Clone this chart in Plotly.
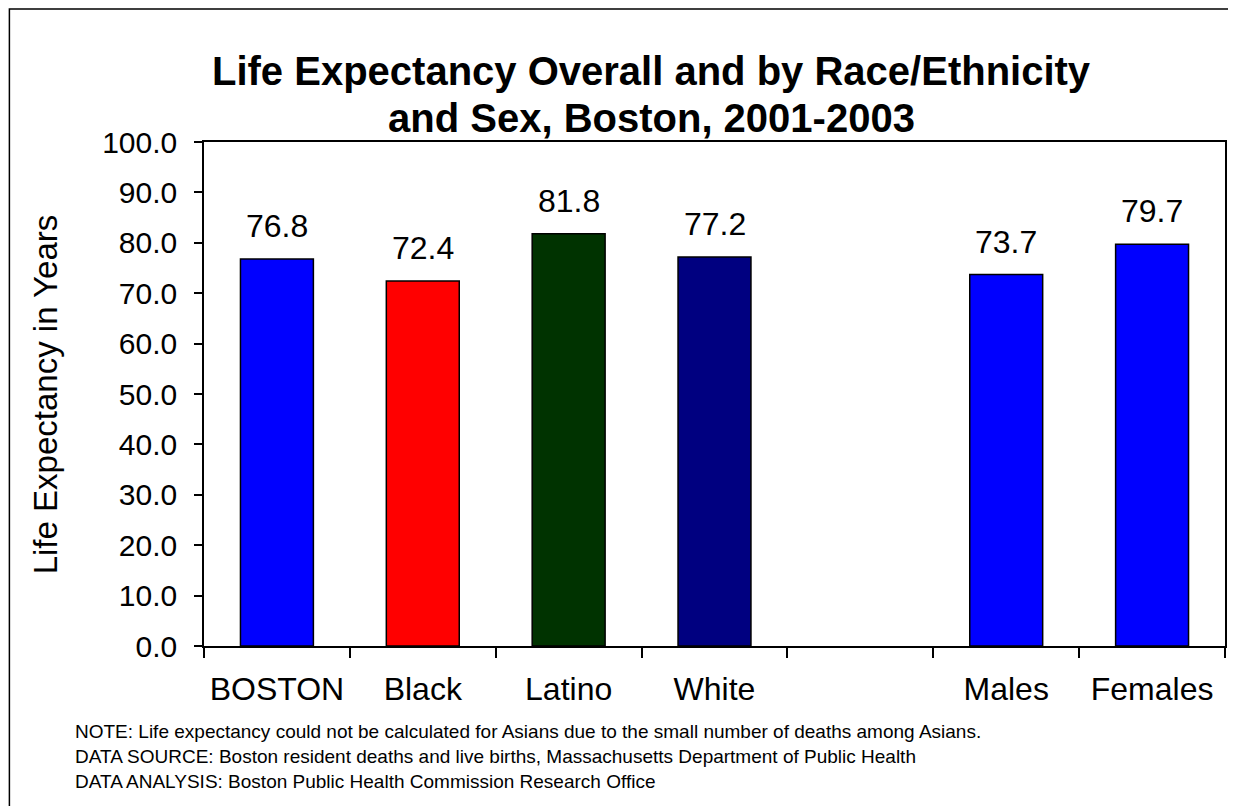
import plotly.graph_objects as go

categories = ["BOSTON", "Black", "Latino", "White", " ", "Males", "Females"]
values = [76.8, 72.4, 81.8, 77.2, None, 73.7, 79.7]
colors = ["#0000FF", "#FF0000", "#003300", "#000080", "#FFFFFF", "#0000FF", "#0000FF"]
y_ticks = [0, 10, 20, 30, 40, 50, 60, 70, 80, 90, 100]
y_tick_labels = [f"{v:.1f}" for v in y_ticks]
title_lines = ["Life Expectancy Overall and by Race/Ethnicity", "and Sex, Boston, 2001-2003"]
notes = [
    "NOTE: Life expectancy could not be calculated for Asians due to the small number of deaths among Asians.",
    "DATA SOURCE: Boston resident deaths and live births, Massachusetts Department of Public Health",
    "DATA ANALYSIS: Boston Public Health Commission Research Office",
]

FONT = "Liberation Sans, Arial, sans-serif"

fig = go.Figure()
fig.add_trace(go.Bar(
    x=categories, y=values,
    marker=dict(color=colors, line=dict(color="black", width=1.5)),
    width=0.5, hoverinfo="skip",
))

annotations = []
for c, v in zip(categories, values):
    if v is None:
        continue
    annotations.append(dict(x=c, y=v, xref="x", yref="y", text=f"{v:.1f}",
                            showarrow=False, yanchor="bottom", yshift=13,
                            font=dict(family=FONT, size=32, color="black")))

# y-axis title
annotations.append(dict(x=-0.1554, y=0.5, xref="paper", yref="paper",
                        text="Life Expectancy in Years", textangle=-90,
                        showarrow=False, xanchor="center", yanchor="middle",
                        font=dict(family=FONT, size=33, color="black")))
# title
title_y = [1.141, 1.047]
for t, ty in zip(title_lines, title_y):
    annotations.append(dict(x=0.438, y=ty, xref="paper", yref="paper", text=f"<b>{t}</b>",
                            showarrow=False, xanchor="center", yanchor="middle",
                            font=dict(family=FONT, size=40, color="black")))
# notes
note_y = [-0.1706, -0.2202, -0.2679]
for t, ny in zip(notes, note_y):
    annotations.append(dict(x=-0.128, y=ny, xref="paper", yref="paper", text=t,
                            showarrow=False, xanchor="left", yanchor="middle",
                            font=dict(family=FONT, size=19, color="black")))

fig.update_layout(
    width=1228, height=798,
    margin=dict(l=196, r=9, t=134, b=160),
    paper_bgcolor="white", plot_bgcolor="white",
    showlegend=False,
    annotations=annotations,
    shapes=[dict(type="rect", xref="paper", yref="paper",
                 x0=-0.1906, y0=-0.4, x1=1.05, y1=1.2639,
                 line=dict(color="black", width=1.5), layer="below")],
    xaxis=dict(type="category", tickson="boundaries", ticks="outside", ticklen=10,
               tickcolor="black", tickwidth=1.5, showline=True, linecolor="black",
               linewidth=1.5, mirror=True, showgrid=False,
               tickfont=dict(family=FONT, size=32, color="black"), ticklabelstandoff=14),
    yaxis=dict(range=[0, 100], tickvals=y_ticks, ticktext=y_tick_labels, ticks="outside",
               ticklen=8, tickcolor="black", tickwidth=1.5, showline=True,
               linecolor="black", linewidth=1.5, mirror=True, showgrid=False, zeroline=False,
               tickfont=dict(family=FONT, size=30, color="black"), ticklabelstandoff=11),
)

fig.write_html("out.html")
